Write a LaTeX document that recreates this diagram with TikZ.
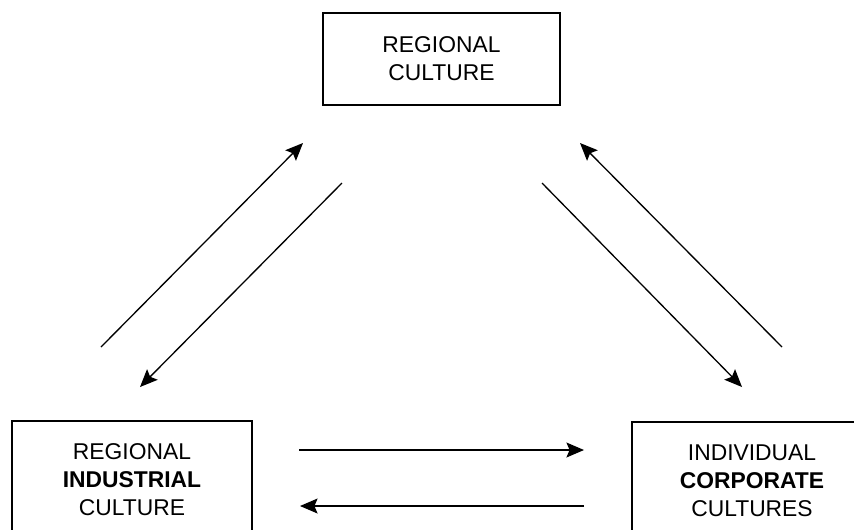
\documentclass[tikz,border=0pt]{standalone}
\usepackage{fontspec}
\setmainfont{Liberation Sans}
\usetikzlibrary{arrows.meta}

\tikzset{
  culture/.style={draw, line width=0.7pt, align=center, inner sep=0pt,
    font=\fontsize{13}{16}\selectfont},
  flow/.style={line width=0.75pt, -{Stealth[length=10pt, width=8.5pt, inset=1.8pt]}}
}

\begin{document}
\begin{tikzpicture}[x=0.02cm, y=-0.02cm]
  \useasboundingbox (0,0) rectangle (854,529);

  % Kulturen
  \node[culture, minimum width=4.74cm, minimum height=1.84cm] (regional) at (441.5,59) {REGIONAL\\CULTURE};
  \node[culture, minimum width=4.8cm, minimum height=2.36cm] (industrial) at (132,480) {REGIONAL\\\textbf{INDUSTRIAL}\\CULTURE};
  \node[culture, minimum width=4.8cm, minimum height=2.36cm] (corporate) at (752,481) {INDIVIDUAL\\\textbf{CORPORATE}\\CULTURES};

  % Pfeilenden
  \coordinate (a1) at (101,347); \coordinate (a2) at (303,143);
  \coordinate (b1) at (342,183); \coordinate (b2) at (140,387);
  \coordinate (c1) at (542,183); \coordinate (c2) at (742,387);
  \coordinate (d1) at (782,347); \coordinate (d2) at (580,143);
  \coordinate (h1) at (299,450); \coordinate (h2) at (584,450);
  \coordinate (k1) at (584,506); \coordinate (k2) at (300,506);

  % Wechselwirkungen
  \draw[flow] (a1) -- (a2);
  \draw[flow] (b1) -- (b2);
  \draw[flow] (c1) -- (c2);
  \draw[flow] (d1) -- (d2);
  \draw[flow] (h1) -- (h2);
  \draw[flow] (k1) -- (k2);
\end{tikzpicture}
\end{document}
